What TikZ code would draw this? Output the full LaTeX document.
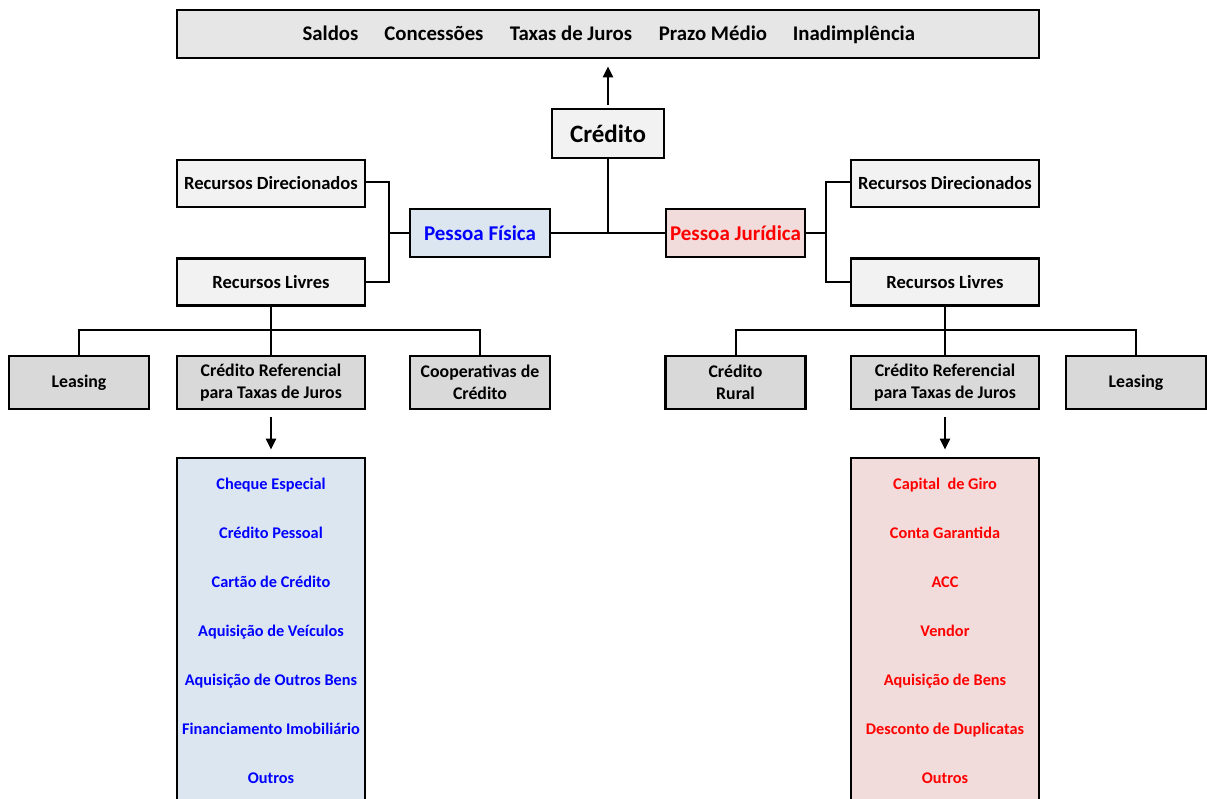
\documentclass[tikz,border=0pt]{standalone}
\usepackage{fontspec}
\setmainfont{Carlito}
\usetikzlibrary{arrows.meta,calc}
\definecolor{topgray}{HTML}{E6E6E6}
\definecolor{lightgray2}{HTML}{F2F2F2}
\definecolor{midgray}{HTML}{D9D9D9}
\definecolor{pfblue}{HTML}{DCE6F1}
\definecolor{pjpink}{HTML}{F2DCDB}
\definecolor{txtblue}{HTML}{0000FF}
\definecolor{txtred}{HTML}{FF0000}
\tikzset{
  box/.style={draw=black, line width=2.8pt, inner sep=0pt, align=center, font=\bfseries},
  topbox/.style={box, fill=topgray, minimum width=862, minimum height=48},
  credbox/.style={box, fill=lightgray2, minimum width=112, minimum height=49, font=\bfseries\fontsize{25}{29}\selectfont},
  pfbox/.style={box, fill=pfblue, text=txtblue, minimum width=140, minimum height=48, font=\bfseries\fontsize{21}{25}\selectfont},
  pjbox/.style={box, fill=pjpink, text=txtred, minimum width=139, minimum height=48, font=\bfseries\fontsize{21}{25}\selectfont},
  recbox/.style={box, fill=lightgray2, minimum width=188, minimum height=47, font=\bfseries\fontsize{18.6}{22}\selectfont},
  subbox/.style={box, fill=midgray, minimum height=53, font=\bfseries\fontsize{17.8}{22.5}\selectfont},
  listbox/.style={box, minimum width=188, minimum height=346},
  item/.style={inner sep=0pt, anchor=base, font=\bfseries\fontsize{16.3}{19}\selectfont},
  conn/.style={draw=black, line width=2pt},
  arr/.style={draw=black, line width=2.2pt, -{Triangle[width=10pt,length=11pt]}},
  toptext/.style={inner sep=0pt, anchor=base, font=\bfseries\fontsize{20.8}{25}\selectfont}
}
\begin{document}
\begin{tikzpicture}[x=1pt,y=-1pt]
\useasboundingbox (0,0) rectangle (1207,798);
\clip (0,0) rectangle (1207,798);
% top box
\node[topbox] (top) at (608,34) {};
\node[toptext] (t1) at (330.5,40.5) {Saldos};
\node[toptext] (t2) at (434,40.5) {Concessões};
\node[toptext] (t3) at (571,40.5) {Taxas de Juros};
\node[toptext] (t4) at (713,40.5) {Prazo Médio};
\node[toptext] (t5) at (854,40.5) {Inadimplência};
% credito
\node[credbox] (cred) at (608,133.5) {Crédito};
\node[pfbox] (pf) at (480,233) {Pessoa Física};
\node[pjbox] (pj) at (735.5,233) {Pessoa Jurídica};
\draw[arr, shorten <=3pt, shorten >=7pt] (cred.north) -- (cred.north |- top.south);
\draw[conn] (cred.south) -- (cred.south |- pf.east);
\draw[conn] (pf.east) -- (pj.west);
% left recursos
\node[recbox] (rdL) at (271,183.5) {Recursos Direcionados};
\node[recbox] (rlL) at (271,282) {Recursos Livres};
\coordinate (jL) at (389,233);
\draw[conn] ($(rdL.east)+(0,-2)$) -| (jL) |- (rlL.east);
\draw[conn] (jL) -- (pf.west);
% right recursos
\node[recbox] (rdR) at (945,183.5) {Recursos Direcionados};
\node[recbox] (rlR) at (945,282) {Recursos Livres};
\coordinate (jR) at (826,233);
\draw[conn] ($(rdR.west)+(0,-2)$) -| (jR) |- (rlR.west);
\draw[conn] (jR) -- (pj.east);
% left sub boxes
\node[subbox, minimum width=140] (leaL) at (79,382.5) {Leasing};
\node[subbox, minimum width=188] (crL) at (271,382.5) {Crédito Referencial\\para Taxas de Juros};
\node[subbox, minimum width=140] (coop) at (480,382.5) {Cooperativas de\\Crédito};
\coordinate (hL) at (271,330);
\draw[conn] (rlL.south) -- (hL);
\draw[conn] (leaL.north) |- (hL) -| (coop.north);
\draw[conn] (hL) -- (crL.north);
% right sub boxes
\node[subbox, minimum width=140] (rural) at (735.5,382.5) {Crédito\\Rural};
\node[subbox, minimum width=188] (crR) at (945,382.5) {Crédito Referencial\\para Taxas de Juros};
\node[subbox, minimum width=140] (leaR) at (1136,382.5) {Leasing};
\coordinate (hR) at (945,330);
\draw[conn] (rlR.south) -- (hR);
\draw[conn] (rural.north) |- (hR) -| (leaR.north);
\draw[conn] (hR) -- (crR.north);
% lists
\node[listbox, fill=pfblue] (lstL) at (271,631) {};
\node[listbox, fill=pjpink] (lstR) at (945,631) {};
\draw[arr, shorten <=7pt, shorten >=7pt] (crL.south) -- (lstL.north);
\draw[arr, shorten <=7pt, shorten >=7pt] (crR.south) -- (lstR.north);
\begin{scope}[every node/.style={item, text=txtblue}]
\node (l1) at (271,489.5) {Cheque Especial};
\node (l2) at (271,538.5) {Crédito Pessoal};
\node (l3) at (271,587.5) {Cartão de Crédito};
\node (l4) at (271,636.5) {Aquisição de Veículos};
\node (l5) at (271,685.5) {Aquisição de Outros Bens};
\node (l6) at (271,734.5) {Financiamento Imobiliário};
\node (l7) at (271,783.5) {Outros};
\end{scope}
\begin{scope}[every node/.style={item, text=txtred}]
\node (r1) at (945,489.5) {Capital\ \ de Giro};
\node (r2) at (945,538.5) {Conta Garantida};
\node (r3) at (945,587.5) {ACC};
\node (r4) at (945,636.5) {Vendor};
\node (r5) at (945,685.5) {Aquisição de Bens};
\node (r6) at (945,734.5) {Desconto de Duplicatas};
\node (r7) at (945,783.5) {Outros};
\end{scope}
\end{tikzpicture}
\end{document}
